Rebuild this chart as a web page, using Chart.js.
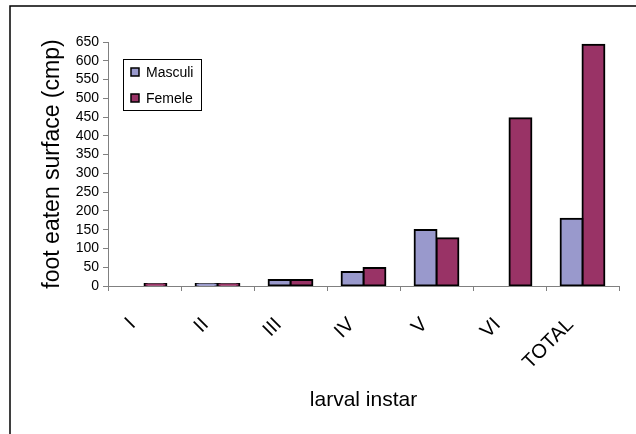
<!DOCTYPE html>
<html>
<head>
<meta charset="utf-8">
<script src="https://cdn.jsdelivr.net/npm/chart.js@4/dist/chart.umd.min.js"></script>
<style>
  html, body { margin: 0; padding: 0; background: #fff; }
  #wrap { width: 636px; height: 434px; position: relative; }
</style>
</head>
<body>
<div id="wrap"><canvas id="grafic"></canvas></div>
<script>
const instars = ['I', 'II', 'III', 'IV', 'V', 'VI', 'TOTAL'];
const masculi = [0, 5, 16, 37, 149, 0, 179];
const femele = [5, 5, 16, 48, 127, 447, 643];
const yTicks = [0, 50, 100, 150, 200, 250, 300, 350, 400, 450, 500, 550, 600, 650];
const yTitle = 'foot eaten surface (cmp)';
const xTitle = 'larval instar';

const FONT = 'Liberation Sans, Arial, sans-serif';

// chenar exterior (doar stanga si sus se vad)
const chenar = {
  id: 'chenar',
  beforeDraw(chart) {
    const c = chart.ctx;
    c.save();
    c.strokeStyle = '#000';
    c.lineWidth = 1.5;
    c.beginPath();
    c.moveTo(10, chart.height);
    c.lineTo(10, 6);
    c.lineTo(chart.width, 6);
    c.stroke();
    c.restore();
  }
};

// legenda in interiorul zonei graficului
const legendaBox = {
  id: 'legendaBox',
  afterDraw(chart) {
    const c = chart.ctx;
    const x = 123, y = 59, w = 78, h = 51;
    c.save();
    c.fillStyle = '#fff';
    c.fillRect(x, y, w, h);
    c.strokeStyle = '#000';
    c.lineWidth = 1;
    c.strokeRect(x + 0.5, y + 0.5, w, h);
    c.font = '14px ' + FONT;
    c.textBaseline = 'middle';
    chart.data.datasets.forEach((ds, i) => {
      const cy = y + 13 + i * 26;
      c.fillStyle = ds.backgroundColor;
      c.fillRect(x + 8, cy - 4, 8, 8);
      c.strokeStyle = '#000';
      c.lineWidth = 1.5;
      c.strokeRect(x + 8, cy - 4, 8, 8);
      c.fillStyle = '#000';
      c.fillText(ds.label, x + 23, cy + 1);
    });
    c.restore();
  }
};

new Chart(document.getElementById('grafic'), {
  type: 'bar',
  data: {
    labels: instars,
    datasets: [
      { label: 'Masculi', data: masculi, backgroundColor: '#9999CC', borderColor: '#000', borderWidth: 2, borderSkipped: false, inflateAmount: 1 },
      { label: 'Femele', data: femele, backgroundColor: '#993366', borderColor: '#000', borderWidth: 2, borderSkipped: false, inflateAmount: 1 }
    ]
  },
  options: {
    responsive: true,
    maintainAspectRatio: false,
    animation: false,
    datasets: { bar: { categoryPercentage: 0.6, barPercentage: 1.0 } },
    layout: { padding: { left: 10, right: 17, top: 42, bottom: 0 } },
    plugins: { legend: { display: false }, tooltip: { enabled: false } },
    scales: {
      x: {
        grid: { display: true, offset: true, drawOnChartArea: false, drawTicks: true, tickLength: 5, color: '#808080' },
        border: { color: '#808080', width: 1 },
        ticks: {
          color: '#000', font: { family: FONT, size: 20 },
          minRotation: 45, maxRotation: 45, padding: 22, labelOffset: -12, autoSkip: false
        },
        title: { display: true, text: xTitle, color: '#000', font: { family: FONT, size: 21 }, padding: { top: 0, bottom: 21 } },
        afterFit(scale) { scale.height = 148; }
      },
      y: {
        min: 0,
        max: 650,
        afterBuildTicks(scale) { scale.ticks = yTicks.map(v => ({ value: v })); },
        grid: { display: true, drawOnChartArea: false, drawTicks: true, tickLength: 5, color: '#808080' },
        border: { color: '#808080', width: 1 },
        ticks: { color: '#000', font: { family: FONT, size: 14 }, padding: 4, autoSkip: false },
        title: { display: true, text: yTitle, color: '#000', font: { family: FONT, size: 23 }, padding: { top: 29, bottom: 0 } },
        afterFit(scale) { scale.width = 98; }
      }
    }
  },
  plugins: [chenar, legendaBox]
});
</script>
</body>
</html>
